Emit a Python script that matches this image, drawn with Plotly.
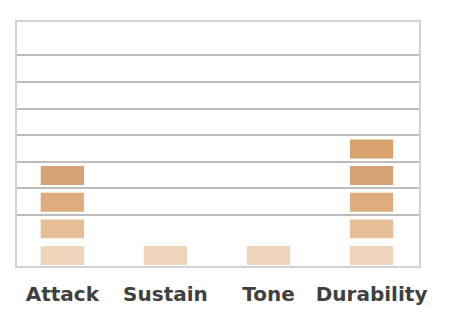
import plotly.graph_objects as go

categories = ["Attack", "Sustain", "Tone", "Durability"]
ratings = [4, 1, 1, 5]
level_colors = ["#eed4b8", "#e6bf98", "#dfac80", "#d7a276", "#d8a26e"]
grid_levels = [1, 2, 3, 4, 5, 6, 7]

seg_bottom = 0.04
seg_height = 0.71
grid_offset = 0.91

fig = go.Figure()
max_level = max(ratings)
for lvl in range(max_level):
    xs = [c for c, r in zip(categories, ratings) if r > lvl]
    fig.add_trace(go.Bar(
        x=xs,
        y=[seg_height] * len(xs),
        base=[lvl + seg_bottom] * len(xs),
        width=0.42,
        marker=dict(color=level_colors[lvl], line=dict(width=0)),
        showlegend=False,
        hoverinfo="skip",
    ))

fig.update_layout(
    width=450, height=318,
    margin=dict(l=17, r=31, t=22, b=52),
    paper_bgcolor="white",
    plot_bgcolor="white",
    barmode="overlay",
    xaxis=dict(
        type="category",
        categoryorder="array", categoryarray=categories,
        range=[-0.44, 3.46],
        showgrid=False,
        showline=True, linecolor="#d2d2d2", linewidth=2, mirror=True,
        ticks="outside", ticklen=9, tickcolor="rgba(0,0,0,0)",
        tickfont=dict(family="DejaVu Sans", size=20, color="#404040", weight="bold"),
        zeroline=False,
    ),
    yaxis=dict(
        range=[0, 9.16],
        tickmode="array",
        tickvals=[g + grid_offset for g in grid_levels],
        showticklabels=False,
        showgrid=True, gridcolor="#bdbdbd", gridwidth=1.5,
        showline=True, linecolor="#d2d2d2", linewidth=2, mirror=True,
        zeroline=False,
    ),
)

fig.write_html("out.html")
